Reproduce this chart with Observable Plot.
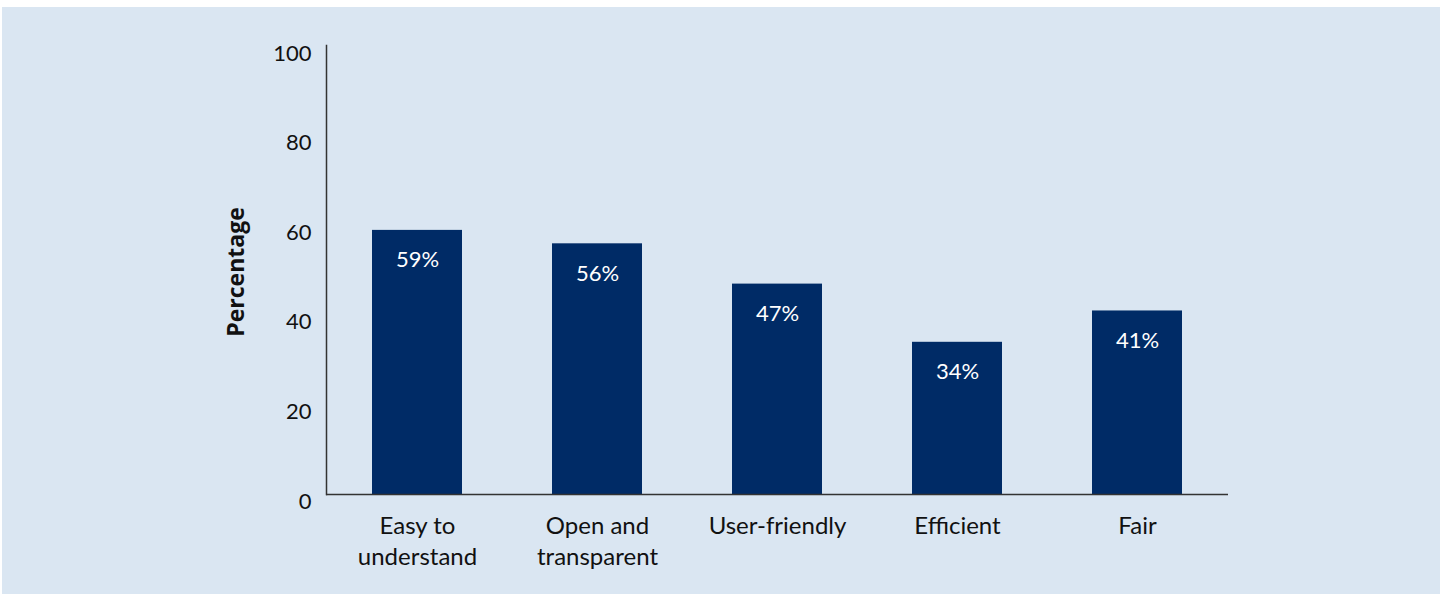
<!DOCTYPE html>
<html>
<head>
<meta charset="utf-8">
<script src="https://cdn.jsdelivr.net/npm/d3@7"></script>
<script src="https://cdn.jsdelivr.net/npm/@observablehq/plot@0.6"></script>
<style>
  html, body { margin: 0; padding: 0; background: #ffffff; }
  #wrap { position: relative; width: 1447px; height: 594px; overflow: hidden; }
  #panel { position: absolute; left: 2px; top: 7px; width: 1438px; height: 587px; background: #dae6f2; }
  #chart { position: absolute; left: 0; top: 0; }
</style>
</head>
<body>
<div id="wrap"><div id="panel"></div><div id="chart"></div></div>
<script>
const categories = ["Easy to\nunderstand", "Open and\ntransparent", "User-friendly", "Efficient", "Fair"];
const percentages = [59, 56, 47, 34, 41];
const yTicks = [0, 20, 40, 60, 80, 100];
const yLabel = "Percentage";

const data = categories.map((c, i) => ({category: c, value: percentages[i]}));
const font = "'Gill Sans', 'Gill Sans MT', Lato, sans-serif";

const plot = Plot.plot({
  width: 1447,
  height: 594,
  marginLeft: 326,
  marginRight: 219,
  marginTop: 45,
  marginBottom: 100,
  style: {background: "transparent", fontFamily: font, color: "#111"},
  x: {domain: categories, paddingInner: 0.5, paddingOuter: 0.25, axis: null},
  y: {domain: [0, 100.3], axis: null},
  marks: [
    Plot.barY(data, {x: "category", y: "value", fill: "#002b66"}),
    Plot.text(data, {x: "category", y: "value", text: d => d.value + "%", fill: "white",
      fontSize: 22, dy: 30, fontFamily: font}),
    Plot.axisY({ticks: yTicks, tickSize: 0, tickPadding: 15, fontSize: 22, label: null, dy: 7,
      fill: "#111"}),
    Plot.axisX({tickSize: 0, tickPadding: 17, fontSize: 24, label: null, lineHeight: 1.3, fill: "#111",
      tickFormat: d => d}),
    Plot.frame({anchor: "left", stroke: "#333", strokeWidth: 1.5}),
    Plot.ruleY([0], {stroke: "#333", strokeWidth: 1.5}),
    Plot.text([yLabel], {frameAnchor: "left", textAnchor: "middle", dx: -90, dy: 2, rotate: -90,
      fontSize: 23, fontWeight: "bold", fill: "#111", fontFamily: "'Open Sans', Lato, sans-serif"})
  ]
});
document.getElementById("chart").appendChild(plot);
</script>
</body>
</html>
